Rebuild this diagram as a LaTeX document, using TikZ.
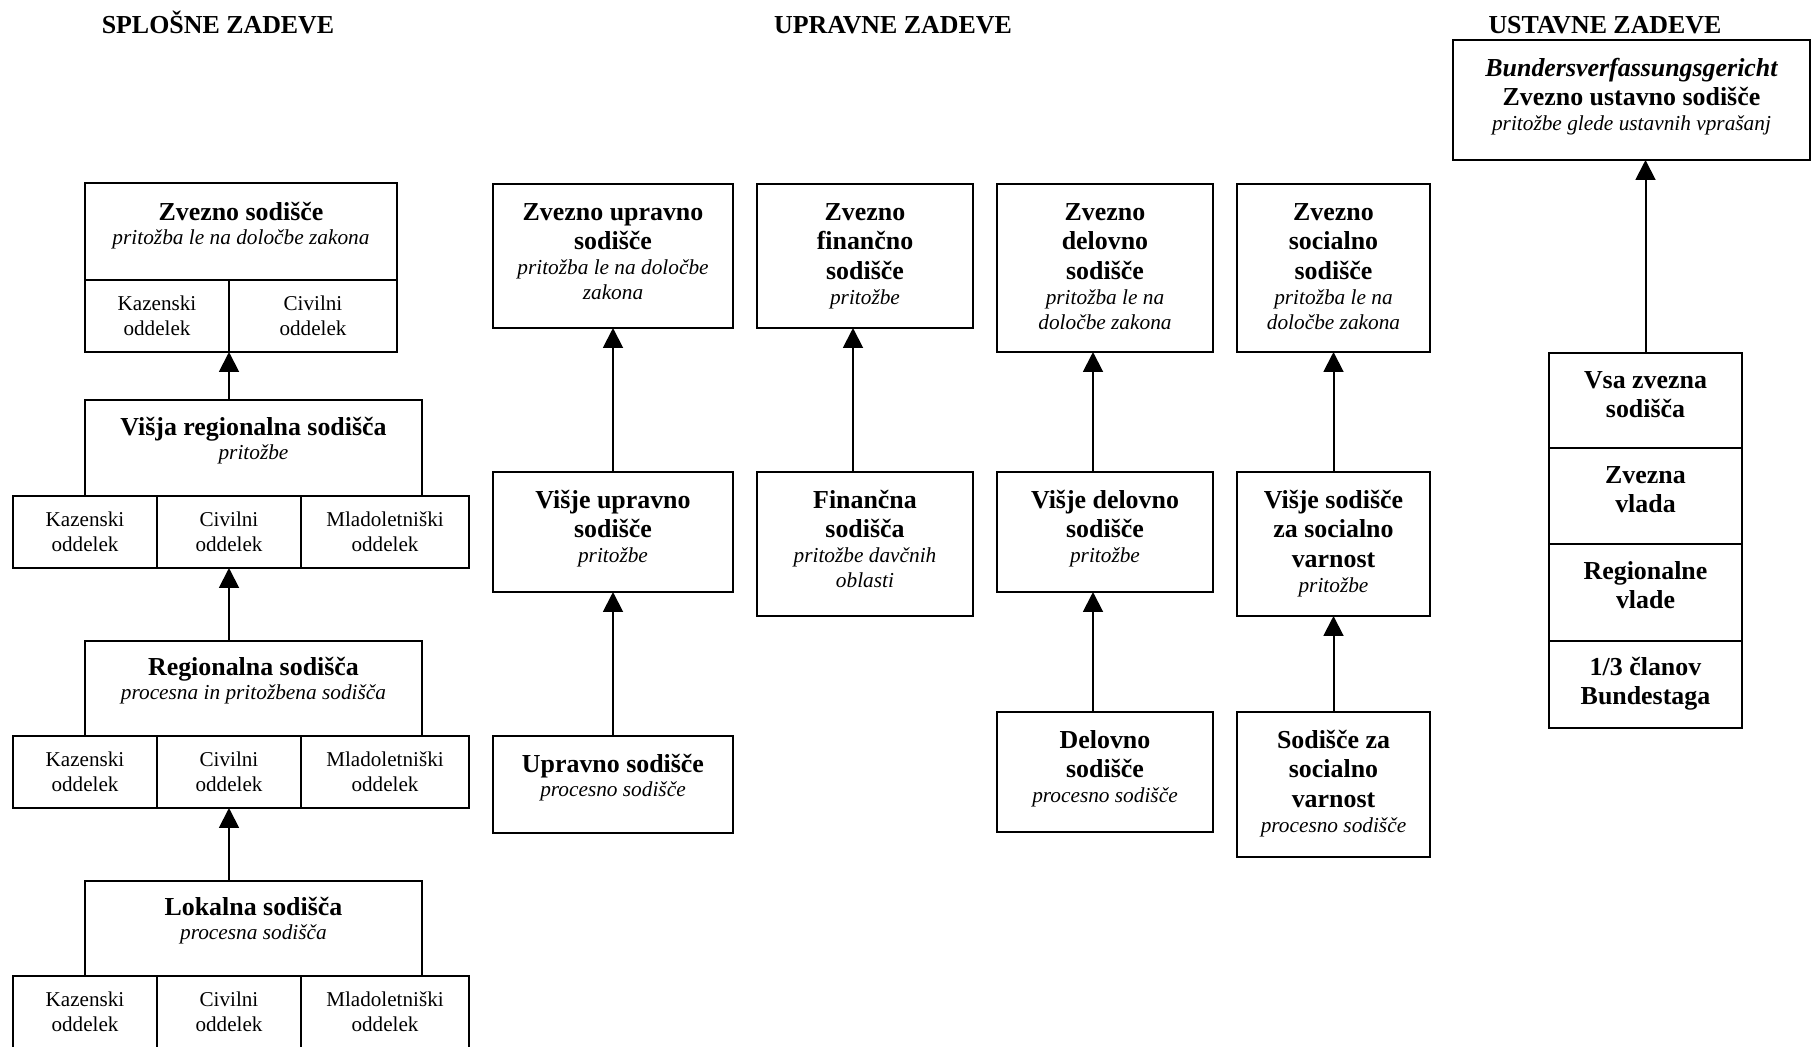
\documentclass[tikz,border=0pt]{standalone}
\usepackage{fontspec}
\setmainfont{Liberation Serif}
\usetikzlibrary{arrows.meta}
\newdimen\pxu \pxu=0.5bp
\newcommand\cb[4]{\parbox[c][#2\pxu][t]{#1\pxu}{\centering\rule{0pt}{#3\pxu}#4}}
\newcommand\cc[3]{\parbox[c][#2\pxu][c]{#1\pxu}{\centering\fontsize{10.6}{12.5}\selectfont #3}}
\newcommand\B[1]{{\fontsize{13}{15}\selectfont\bfseries #1\par}}
\newcommand\I[1]{{\fontsize{10.7}{12.5}\selectfont\itshape #1\par}}
\newcommand\BI[1]{{\fontsize{13}{15}\selectfont\bfseries\itshape #1\par}}
\begin{document}
\begin{tikzpicture}[x=0.5bp,y=-0.5bp,
  box/.style={draw, line width=1pt, inner sep=0pt, outer sep=0pt, anchor=north west},
  arr/.style={-{Triangle[width=10pt,length=10pt]}, line width=1pt},
  ttl/.style={font=\fontsize{13}{15}\selectfont\bfseries, inner sep=0pt, anchor=base}]
\useasboundingbox (0,0) rectangle (1812,1046);

% titles
\node[ttl] (t1) at (218,33) {SPLOŠNE ZADEVE};
\node[ttl] (t2) at (893,33) {UPRAVNE ZADEVE};
\node[ttl] (t3) at (1605,33) {USTAVNE ZADEVE};

% general courts
\node[box] (zs) at (85,183) {\cb{312}{97}{37}{\B{Zvezno sodišče}\I{pritožba le na določbe zakona}}};
\node[box] (zsk) at (85,280) {\cc{144}{72}{Kazenski\\oddelek}};
\node[box] (zsc) at (229,280) {\cc{168}{72}{Civilni\\oddelek}};

\node[box] (vrs) at (85,400) {\cb{337}{96}{35}{\B{Višja regionalna sodišča}\I{pritožbe}}};
\node[box] (vrsk) at (13,496) {\cc{144}{72}{Kazenski\\oddelek}};
\node[box] (vrsc) at (157,496) {\cc{144}{72}{Civilni\\oddelek}};
\node[box] (vrsm) at (301,496) {\cc{168}{72}{Mladoletniški\\oddelek}};

\node[box] (rs) at (85,641) {\cb{337}{95}{34}{\B{Regionalna sodišča}\I{procesna in pritožbena sodišča}}};
\node[box] (rsk) at (13,736) {\cc{144}{72}{Kazenski\\oddelek}};
\node[box] (rsc) at (157,736) {\cc{144}{72}{Civilni\\oddelek}};
\node[box] (rsm) at (301,736) {\cc{168}{72}{Mladoletniški\\oddelek}};

\node[box] (ls) at (85,881) {\cb{337}{95}{34}{\B{Lokalna sodišča}\I{procesna sodišča}}};
\node[box] (lsk) at (13,976) {\cc{144}{72}{Kazenski\\oddelek}};
\node[box] (lsc) at (157,976) {\cc{144}{72}{Civilni\\oddelek}};
\node[box] (lsm) at (301,976) {\cc{168}{72}{Mladoletniški\\oddelek}};

\draw[arr] (zsk.south east |- vrs.north) -- (zsk.south east);
\draw[arr] (vrsc.south |- rs.north) -- (vrsc.south);
\draw[arr] (rsc.south |- ls.north) -- (rsc.south);

% administrative courts
\node[box] (zu) at (493,184) {\cb{240}{144}{36}{\B{Zvezno upravno\\sodišče}\I{pritožba le na določbe\\zakona}}};
\node[box] (vu) at (493,472) {\cb{240}{120}{36}{\B{Višje upravno\\sodišče}\I{pritožbe}}};
\node[box] (us) at (493,736) {\cb{240}{97}{36}{\B{Upravno sodišče}\I{procesno sodišče}}};
\draw[arr] (vu.north) -- (zu.south);
\draw[arr] (us.north) -- (vu.south);

\node[box] (zf) at (757,184) {\cb{216}{144}{36}{\B{Zvezno\\finančno\\sodišče}\I{pritožbe}}};
\node[box] (fs) at (757,472) {\cb{216}{144}{36}{\B{Finančna\\sodišča}\I{pritožbe davčnih\\oblasti}}};
\draw[arr] ([xshift=-6bp]fs.north) -- ([xshift=-6bp]zf.south);

\node[box] (zd) at (997,184) {\cb{216}{168}{36}{\B{Zvezno\\delovno\\sodišče}\I{pritožba le na\\določbe zakona}}};
\node[box] (vd) at (997,472) {\cb{216}{120}{36}{\B{Višje delovno\\sodišče}\I{pritožbe}}};
\node[box] (ds) at (997,712) {\cb{216}{120}{36}{\B{Delovno\\sodišče}\I{procesno sodišče}}};
\draw[arr] ([xshift=-6bp]vd.north) -- ([xshift=-6bp]zd.south);
\draw[arr] ([xshift=-6bp]ds.north) -- ([xshift=-6bp]vd.south);

\node[box] (zso) at (1237,184) {\cb{193}{168}{36}{\B{Zvezno\\socialno\\sodišče}\I{pritožba le na\\določbe zakona}}};
\node[box] (vso) at (1237,472) {\cb{193}{144}{36}{\B{Višje sodišče\\za socialno\\varnost}\I{pritožbe}}};
\node[box] (sso) at (1237,712) {\cb{193}{145}{36}{\B{Sodišče za\\socialno\\varnost}\I{procesno sodišče}}};
\draw[arr] (vso.north) -- (zso.south);
\draw[arr] (sso.north) -- (vso.south);

% constitutional
\node[box] (zus) at (1453,40) {\cb{357}{120}{36}{\BI{Bundersverfassungsgericht}\B{Zvezno ustavno sodišče}\I{pritožbe glede ustavnih vprašanj}}};
\node[box] (v1) at (1549,353) {\cb{193}{95}{35}{\B{Vsa zvezna\\sodišča}}};
\node[box] (v2) at (1549,448) {\cb{193}{96}{35}{\B{Zvezna\\vlada}}};
\node[box] (v3) at (1549,544) {\cb{193}{97}{35}{\B{Regionalne\\vlade}}};
\node[box] (v4) at (1549,641) {\cb{193}{87}{34}{\B{1/3 članov\\Bundestaga}}};
\draw[arr] (v1.north) -- (v1.north |- zus.south);
\end{tikzpicture}
\end{document}
